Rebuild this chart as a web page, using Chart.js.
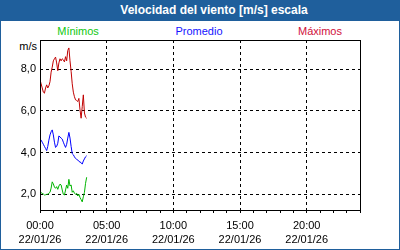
<!DOCTYPE html>
<html>
<head>
<meta charset="utf-8">
<script src="https://cdn.jsdelivr.net/npm/chart.js@4"></script>
<style>
    body { margin: 0; background: #fff; }
    #frame {
        position: relative;
        width: 400px;
        height: 250px;
        box-sizing: border-box;
        border: 1px solid #1f5f9c;
        border-top: none;
        font-family: "Liberation Sans", Arial, sans-serif;
        font-size: 11px;
        overflow: hidden;
    }
    #title {
        position: absolute;
        left: -1px; top: 0;
        width: 400px; height: 21px;
        background: #1f5f9c;
        color: #fff;
        font-weight: bold;
        font-size: 12px;
        line-height: 21px;
        text-align: center;
        text-indent: 28px;
    }
    .leg { position: absolute; top: 25px; width: 100px; text-align: center; }
    #unit { position: absolute; left: 0; width: 36px; top: 40px; text-align: right; color: #000; }
    canvas { position: absolute; left: -1px; top: 0; }
</style>
</head>
<body>
<div id="frame">
    <div id="title">Velocidad del viento [m/s] escala</div>
    <span class="leg" style="left: 27px; color: #10c810;">Mínimos</span>
    <span class="leg" style="left: 148px; color: #1414ff;">Promedio</span>
    <span class="leg" style="left: 269px; color: #d0103c;">Máximos</span>
    <span id="unit">m/s</span>
    <canvas id="wind" width="400" height="250"></canvas>
</div>
<script>
// minutes since 00:00 on 22/01/26, one reading every 5 minutes
const minutes = [];
for (let m = 0; m <= 210; m += 5) minutes.push(m);

const maximos = [7.49, 7.3, 7.1, 6.9, 6.85, 7.1, 7.25, 7.1, 7.2, 7.4,
    7.86, 8.1, 8.4, 8.5, 8.58, 8.3, 7.93, 8.3, 8.5, 8.4,
    8.5, 8.45, 8.35, 8.6, 8.4, 8.9, 9.02, 8.4, 7.9, 7.3,
    6.9, 6.68, 6.53, 6.5, 6.45, 6.6, 6.05, 5.65, 6.2, 6.77,
    5.9, 5.7, 5.65];

const promedio = [4.6, 4.6, 4.5, 4.4, 4.3, 4.2, 4.1, 4.3, 4.6, 4.85,
    5.0, 5.09, 4.85, 4.5, 4.25, 4.3, 4.45, 4.8, 4.75, 4.7,
    4.65, 4.5, 4.37, 4.25, 4.4, 4.7, 4.97, 4.7, 4.3, 3.95,
    3.9, 3.8, 3.72, 3.68, 3.65, 3.58, 3.55, 3.52, 3.45, 3.6,
    3.7, 3.8, 3.85];

const minimos = [2.08, 2.08, 2.05, 2.02, 1.97, 1.98, 2.0, 2.01, 2.05, 2.1,
    2.3, 2.6, 2.5, 2.35, 2.29, 2.37, 2.24, 2.4, 2.49, 2.45,
    2.21, 2.0, 1.97, 2.21, 2.45, 2.29, 2.72, 2.4, 2.45, 2.1,
    2.17, 2.05, 2.01, 2.05, 1.92, 2.0, 1.85, 1.75, 1.64, 1.88,
    2.1, 2.53, 2.82];

const x_labels = { 0: "00:00", 300: "05:00", 600: "10:00", 900: "15:00", 1200: "20:00" };
const date_label = "22/01/26";

const toPoints = (vals) => vals.map((v, i) => ({ x: minutes[i], y: v }));

function series(label, vals, colour) {
    return {
        label: label,
        data: toPoints(vals),
        borderColor: colour,
        backgroundColor: colour,
        borderWidth: 1,
        pointRadius: 0,
        tension: 0,
        fill: false
    };
}

// black frame round the plot area
const plotFrame = {
    id: "plotFrame",
    afterDraw(chart) {
        const a = chart.chartArea;
        const c = chart.ctx;
        c.save();
        c.strokeStyle = "#000";
        c.lineWidth = 1;
        c.strokeRect(Math.round(a.left) + 0.5, Math.round(a.top) + 0.5,
            Math.round(a.right - a.left), Math.round(a.bottom - a.top));
        c.restore();
    }
};

const cfg = {
    type: "line",
    data: {
        datasets: [
            series("Mínimos", minimos, "#00b400"),
            series("Promedio", promedio, "#0000ff"),
            series("Máximos", maximos, "#c00000")
        ]
    },
    options: {
        responsive: false,
        animation: false,
        layout: { padding: { top: 40, right: 40, left: 0, bottom: 0 } },
        plugins: {
            legend: { display: false },
            tooltip: { enabled: false }
        },
        scales: {
            x: {
                type: "linear",
                min: 0,
                max: 1440,
                afterFit(scale) { scale.height = 40; },
                border: { display: false, dash: [3, 3] },
                grid: {
                    color: (ctx) => {
                        const v = ctx.tick ? ctx.tick.value : -1;
                        return (v % 300 === 0 && v > 0 && v < 1440) ? "#000" : "rgba(0,0,0,0)";
                    },
                    tickColor: "#000",
                    tickLength: 3,
                    lineWidth: 1
                },
                ticks: {
                    stepSize: 60,
                    autoSkip: false,
                    maxRotation: 0,
                    padding: 5,
                    color: "#000",
                    font: { family: "Liberation Sans", size: 11, lineHeight: 1.36 },
                    callback: (v) => (v in x_labels) ? [x_labels[v], date_label] : ""
                }
            },
            y: {
                min: 1.25,
                max: 9.4,
                afterFit(scale) { scale.width = 40; },
                border: { display: false, dash: [3, 3] },
                grid: { color: "#000", drawTicks: false, lineWidth: 1 },
                ticks: {
                    stepSize: 2,
                    includeBounds: false,
                    padding: 4,
                    color: "#000",
                    font: { family: "Liberation Sans", size: 11 },
                    callback: (v) => v.toFixed(1).replace(".", ",")
                }
            }
        }
    },
    plugins: [plotFrame]
};

new Chart(document.getElementById("wind").getContext("2d"), cfg);
</script>
</body>
</html>
